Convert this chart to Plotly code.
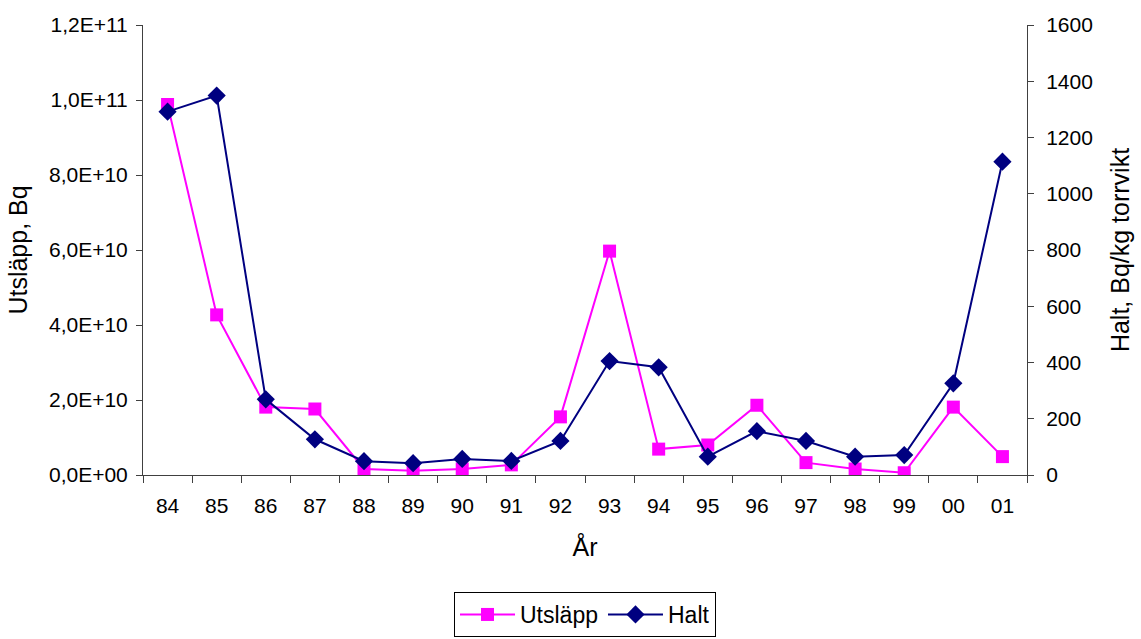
import plotly.graph_objects as go

years = ["84", "85", "86", "87", "88", "89", "90", "91", "92", "93",
         "94", "95", "96", "97", "98", "99", "00", "01"]
utslapp = [9.88e10, 4.27e10, 1.81e10, 1.76e10, 1.6e9, 1.1e9, 1.6e9, 2.7e9, 1.55e10, 5.97e10,
           6.9e9, 8.0e9, 1.86e10, 3.3e9, 1.6e9, 6.0e8, 1.81e10, 4.9e9]
halt = [1292, 1349, 269, 127, 49, 42, 57, 50, 121, 405,
        383, 65, 156, 121, 65, 71, 326, 1114]

left_tickvals = [0, 2e10, 4e10, 6e10, 8e10, 1e11, 1.2e11]
left_ticktext = ["0,0E+00", "2,0E+10", "4,0E+10", "6,0E+10", "8,0E+10", "1,0E+11", "1,2E+11"]
right_tickvals = [0, 200, 400, 600, 800, 1000, 1200, 1400, 1600]

FONT = "Liberation Sans, Arial, sans-serif"
AX = "#404040"

fig = go.Figure()
fig.add_trace(go.Scatter(
    x=years, y=utslapp, name="Utsläpp", mode="lines+markers",
    line=dict(color="#FF00FF", width=2),
    marker=dict(symbol="square", size=13, color="#FF00FF"),
    yaxis="y", xaxis="x"))
fig.add_trace(go.Scatter(
    x=years, y=halt, name="Halt", mode="lines+markers",
    line=dict(color="#000080", width=2),
    marker=dict(symbol="diamond", size=14, color="#000080"),
    yaxis="y2", xaxis="x"))

n = len(years)
fig.update_layout(
    width=1141, height=639,
    margin=dict(l=143, r=104, t=25, b=164),
    paper_bgcolor="white", plot_bgcolor="white",
    font=dict(family=FONT, size=21, color="black"),
    showlegend=True,
    legend=dict(orientation="h", x=0.5, xanchor="center", xref="paper",
                y=2 / 639, yanchor="bottom", yref="container",
                bordercolor="black", borderwidth=1, font=dict(size=23),
                itemwidth=55, tracegroupgap=0),
    xaxis=dict(type="category", categoryorder="array", categoryarray=years,
               range=[-0.5, n - 0.5], tickson="boundaries",
               ticks="outside", ticklen=7, tickcolor=AX, showline=True, linecolor=AX,
               linewidth=1, showgrid=False, zeroline=False, ticklabelstandoff=12,
               title=dict(text="År", standoff=22)),
    xaxis2=dict(overlaying="x", anchor="y", side="bottom", range=[-0.5, n - 0.5],
                tickvals=[i - 0.5 for i in range(n + 1)], ticks="inside", ticklen=7,
                tickcolor=AX, showticklabels=False, showgrid=False, zeroline=False,
                showline=False),
    yaxis=dict(range=[0, 1.2e11], tickvals=left_tickvals, ticktext=left_ticktext,
               ticks="outside", ticklen=6, tickcolor=AX, showline=True, linecolor=AX,
               linewidth=1, showgrid=False, zeroline=False, ticklabelstandoff=4,
               title=dict(text="Utsläpp, Bq", standoff=14)),
    yaxis2=dict(range=[0, 1600], tickvals=right_tickvals, overlaying="y", side="right",
                ticks="outside", ticklen=6, tickcolor=AX, showline=True, linecolor=AX,
                linewidth=1, showgrid=False, zeroline=False, ticklabelstandoff=8,
                title=dict(text="Halt, Bq/kg torrvikt", standoff=19)),
    yaxis3=dict(range=[0, 1.2e11], tickvals=left_tickvals, overlaying="y", side="left",
                anchor="x", ticks="inside", ticklen=5, tickcolor=AX, showticklabels=False,
                showgrid=False, zeroline=False, showline=False),
    yaxis4=dict(range=[0, 1600], tickvals=right_tickvals, overlaying="y", side="right",
                anchor="x", ticks="inside", ticklen=6, tickcolor=AX, showticklabels=False,
                showgrid=False, zeroline=False, showline=False),
)
fig.write_html("out.html")
